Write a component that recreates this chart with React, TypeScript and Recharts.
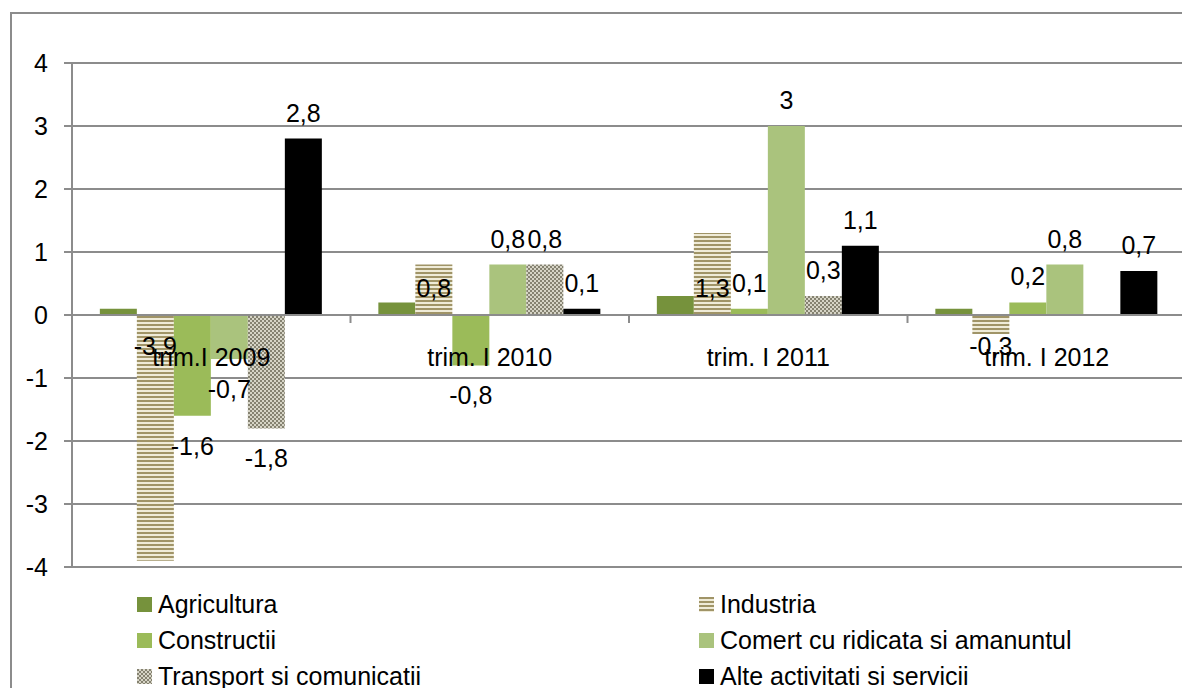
import React from 'react';
import { BarChart, Bar, XAxis, YAxis, CartesianGrid, LabelList, ReferenceLine } from 'recharts';

const categories = ['trim.I 2009', 'trim. I 2010', 'trim. I 2011', 'trim. I 2012'];
const agricultura = [0.1, 0.2, 0.3, 0.1];
const industria = [-3.9, 0.8, 1.3, -0.3];
const constructii = [-1.6, -0.8, 0.1, 0.2];
const comert = [-0.7, 0.8, 3, 0.8];
const transport = [-1.8, 0.8, 0.3, 0];
const alte = [2.8, 0.1, 1.1, 0.7];
const yTicks = [-4, -3, -2, -1, 0, 1, 2, 3, 4];

const seriesNames = [
  'Agricultura',
  'Industria',
  'Constructii',
  'Comert cu ridicata si amanuntul',
  'Transport si comunicatii',
  'Alte activitati si servicii',
];

const FONT = '"Liberation Sans", Arial, sans-serif';
const FS = 25;
const GRID = '#8c8c8c';

const W = 1182;
const H = 688;
const CHART_W = 1192;
const M_TOP = 63;
const M_RIGHT = 6;
const M_BOTTOM = 120;
const Y_W = 72;
const PLOT_W = CHART_W - Y_W - M_RIGHT;
const PLOT_H = H - M_TOP - M_BOTTOM - 1;
const Y_MIN = -4;
const Y_MAX = 4;
const ZERO_Y = M_TOP + (PLOT_H * (Y_MAX - 0)) / (Y_MAX - Y_MIN);

const data = categories.map((c, i) => ({
  category: c,
  agricultura: agricultura[i],
  industria: industria[i],
  constructii: constructii[i],
  comert: comert[i],
  transport: transport[i],
  alte: alte[i],
}));

const series = [
  { key: 'agricultura', name: seriesNames[0], fill: '#76923c', label: 'none' },
  { key: 'industria', name: seriesNames[1], fill: 'url(#patIndustria)', label: 'insideBase' },
  { key: 'constructii', name: seriesNames[2], fill: '#9bbb59', label: 'outside' },
  { key: 'comert', name: seriesNames[3], fill: '#aac37d', label: 'outside' },
  { key: 'transport', name: seriesNames[4], fill: 'url(#patTransport)', label: 'outside' },
  { key: 'alte', name: seriesNames[5], fill: '#000000', label: 'outside' },
];

const fmt = (v: number) => String(v).replace('.', ',');

const makeLabel = (mode: string) => (props: any) => {
  const { x, y, width, height, value } = props;
  if (value === undefined || value === null) return null;
  const v = Number(value);
  const top = Math.min(y, y + height);
  const bottom = Math.max(y, y + height);
  const cx = x + width / 2;
  let cy: number;
  if (mode === 'insideBase') {
    const zero = v >= 0 ? bottom : top;
    cy = v >= 0 ? zero - 27 : zero + 31;
  } else {
    cy = v >= 0 ? top - 26 : bottom + 30;
  }
  return (
    <text
      x={cx}
      y={cy}
      textAnchor="middle"
      dominantBaseline="central"
      fontFamily={FONT}
      fontSize={FS}
      fill="#000"
    >
      {fmt(v)}
    </text>
  );
};

const CategoryTick = (props: any) => {
  const { x, payload, index } = props;
  const band = PLOT_W / categories.length;
  const bx = x + band / 2;
  return (
    <g>
      <text
        x={x}
        y={ZERO_Y + 42}
        textAnchor="middle"
        dominantBaseline="central"
        fontFamily={FONT}
        fontSize={FS}
        fill="#000"
      >
        {payload.value}
      </text>
      {index < categories.length - 1 && (
        <line x1={bx} y1={ZERO_Y} x2={bx} y2={ZERO_Y + 8} stroke={GRID} strokeWidth={2} />
      )}
    </g>
  );
};

const LegendMarker = ({ fill }: { fill: string }) => (
  <svg width={15} height={15} style={{ display: 'block' }}>
    <rect x={0} y={0} width={15} height={15} fill={fill} />
  </svg>
);

export default function App() {
  const legendLeft = [0, 2, 4];
  const legendRight = [1, 3, 5];
  return (
    <div
      style={{
        position: 'absolute',
        left: 0,
        top: 0,
        width: W,
        height: H,
        overflow: 'hidden',
        background: '#fff',
        fontFamily: FONT,
      }}
    >
      <svg width={0} height={0} style={{ position: 'absolute' }}>
        <defs>
          <pattern id="patIndustria" width={4} height={4} patternUnits="userSpaceOnUse">
            <rect x={0} y={0} width={4} height={4} fill="#efebd8" />
            <rect x={0} y={0} width={4} height={2} fill="#a09467" />
          </pattern>
          <pattern id="patTransport" width={4} height={4} patternUnits="userSpaceOnUse">
            <rect x={0} y={0} width={4} height={4} fill="#d6d4c6" />
            <rect x={0} y={0} width={2} height={2} fill="#858271" />
            <rect x={2} y={2} width={2} height={2} fill="#858271" />
          </pattern>
        </defs>
      </svg>
      <div
        style={{
          position: 'absolute',
          left: 10,
          top: 12,
          width: W,
          height: H,
          borderTop: `2px solid ${GRID}`,
          borderLeft: `2px solid ${GRID}`,
          boxSizing: 'border-box',
        }}
      />
      <div style={{ position: 'absolute', left: 0, top: 0 }}>
        <BarChart
          width={CHART_W}
          height={H}
          data={data}
          margin={{ top: M_TOP, right: M_RIGHT, bottom: M_BOTTOM, left: 0 }}
          barCategoryGap="10%"
          barGap={0}
        >
          <CartesianGrid vertical={false} stroke={GRID} strokeWidth={2} />
          <XAxis
            dataKey="category"
            axisLine={false}
            tickLine={false}
            height={1}
            interval={0}
            tick={<CategoryTick />}
          />
          <YAxis
            type="number"
            domain={[Y_MIN, Y_MAX]}
            ticks={yTicks}
            interval={0}
            width={Y_W}
            axisLine={{ stroke: GRID, strokeWidth: 2 }}
            tickLine={{ stroke: GRID, strokeWidth: 2 }}
            tickSize={8}
            tickMargin={16}
            tick={{ fontFamily: FONT, fontSize: FS, fill: '#000' }}
          />
          {series.map((s) => (
            <Bar
              key={s.key}
              dataKey={s.key}
              name={s.name}
              fill={s.fill}
              isAnimationActive={false}
            >
              {s.label !== 'none' && (
                <LabelList dataKey={s.key} content={makeLabel(s.label)} />
              )}
            </Bar>
          ))}
          <ReferenceLine y={0} stroke={GRID} strokeWidth={2} />
        </BarChart>
      </div>
      {[legendLeft, legendRight].map((col, ci) =>
        col.map((si, ri) => (
          <div
            key={si}
            style={{
              position: 'absolute',
              left: ci === 0 ? 137 : 699,
              top: 604 + ri * 36 - 15,
              height: 30,
              display: 'flex',
              alignItems: 'center',
              fontSize: FS,
              color: '#000',
              whiteSpace: 'nowrap',
            }}
          >
            <LegendMarker fill={series[si].fill} />
            <span style={{ marginLeft: 6 }}>{series[si].name}</span>
          </div>
        ))
      )}
    </div>
  );
}
